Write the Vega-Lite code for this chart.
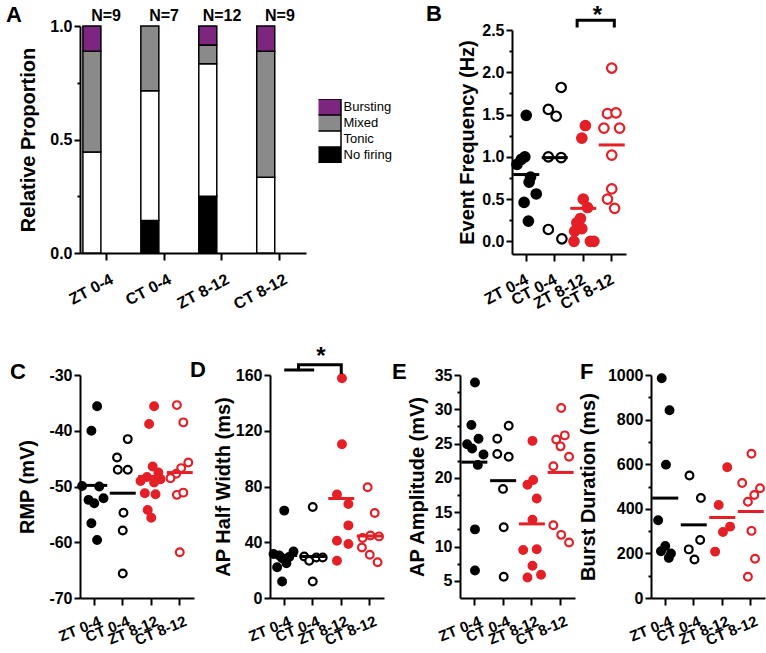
{
"$schema": "https://vega.github.io/schema/vega-lite/v6.json",
"padding": {"left": 6, "top": 3, "right": 0, "bottom": 0},
"config": {
  "font": "Liberation Sans",
  "view": {"stroke": null},
  "axis": {"domainColor": "#000", "domainWidth": 2, "tickColor": "#000", "tickWidth": 2, "tickSize": 6, "labelColor": "#000", "labelFont": "Liberation Sans", "labelFontSize": 16, "labelFontWeight": "bold", "labelPadding": 2, "titleFont": "Liberation Sans", "titleFontSize": 20, "titleFontWeight": "bold", "titleColor": "#000", "titlePadding": 2, "grid": false},
  "title": {"font": "Liberation Sans", "fontSize": 22, "fontWeight": "bold", "color": "#000", "anchor": "start", "frame": "group", "baseline": "alphabetic", "offset": 0}
},
"datasets": {
  "props": [
    {"group": "ZT 0-4", "firing": "Tonic", "lvl": 2, "p": 0.4444},
    {"group": "ZT 0-4", "firing": "Mixed", "lvl": 3, "p": 0.4444},
    {"group": "ZT 0-4", "firing": "Bursting", "lvl": 4, "p": 0.1112},
    {"group": "CT 0-4", "firing": "No firing", "lvl": 1, "p": 0.1429},
    {"group": "CT 0-4", "firing": "Tonic", "lvl": 2, "p": 0.5714},
    {"group": "CT 0-4", "firing": "Mixed", "lvl": 3, "p": 0.2857},
    {"group": "ZT 8-12", "firing": "No firing", "lvl": 1, "p": 0.25},
    {"group": "ZT 8-12", "firing": "Tonic", "lvl": 2, "p": 0.5833},
    {"group": "ZT 8-12", "firing": "Mixed", "lvl": 3, "p": 0.0833},
    {"group": "ZT 8-12", "firing": "Bursting", "lvl": 4, "p": 0.0834},
    {"group": "CT 8-12", "firing": "Tonic", "lvl": 2, "p": 0.3333},
    {"group": "CT 8-12", "firing": "Mixed", "lvl": 3, "p": 0.5556},
    {"group": "CT 8-12", "firing": "Bursting", "lvl": 4, "p": 0.1111}
  ],
  "nlab": [
    {"group": "ZT 0-4", "label": "N=9"},
    {"group": "CT 0-4", "label": "N=7"},
    {"group": "ZT 8-12", "label": "N=12"},
    {"group": "CT 8-12", "label": "N=9"}
  ],
  "freq": [
    {"group": "ZT 0-4", "v": 1.49, "j": 0},
    {"group": "ZT 0-4", "v": 1.0, "j": -0.1},
    {"group": "ZT 0-4", "v": 0.97, "j": -0.35},
    {"group": "ZT 0-4", "v": 0.91, "j": -0.65},
    {"group": "ZT 0-4", "v": 0.76, "j": 0.3},
    {"group": "ZT 0-4", "v": 0.7, "j": 0.2},
    {"group": "ZT 0-4", "v": 0.56, "j": 0.7},
    {"group": "ZT 0-4", "v": 0.46, "j": -0.15},
    {"group": "ZT 0-4", "v": 0.24, "j": 0.15},
    {"group": "CT 0-4", "v": 1.82, "j": 0.45},
    {"group": "CT 0-4", "v": 1.56, "j": -0.45},
    {"group": "CT 0-4", "v": 1.48, "j": 0.1},
    {"group": "CT 0-4", "v": 1.0, "j": -0.45},
    {"group": "CT 0-4", "v": 0.99, "j": 0.45},
    {"group": "CT 0-4", "v": 0.14, "j": -0.45},
    {"group": "CT 0-4", "v": 0.03, "j": 0.5},
    {"group": "ZT 8-12", "v": 1.37, "j": 0.15},
    {"group": "ZT 8-12", "v": 1.22, "j": -0.1},
    {"group": "ZT 8-12", "v": 0.5, "j": 0},
    {"group": "ZT 8-12", "v": 0.4, "j": 0.3},
    {"group": "ZT 8-12", "v": 0.27, "j": -0.2},
    {"group": "ZT 8-12", "v": 0.22, "j": -0.45},
    {"group": "ZT 8-12", "v": 0.15, "j": -0.1},
    {"group": "ZT 8-12", "v": 0.12, "j": -0.6},
    {"group": "ZT 8-12", "v": 0.0, "j": -0.65},
    {"group": "ZT 8-12", "v": 0.0, "j": 0.5},
    {"group": "ZT 8-12", "v": 0.0, "j": 0.75},
    {"group": "CT 8-12", "v": 2.05, "j": 0},
    {"group": "CT 8-12", "v": 1.51, "j": -0.3},
    {"group": "CT 8-12", "v": 1.52, "j": 0.3},
    {"group": "CT 8-12", "v": 1.34, "j": -0.55},
    {"group": "CT 8-12", "v": 1.34, "j": 0.55},
    {"group": "CT 8-12", "v": 1.02, "j": 0},
    {"group": "CT 8-12", "v": 0.62, "j": 0},
    {"group": "CT 8-12", "v": 0.5, "j": -0.3},
    {"group": "CT 8-12", "v": 0.39, "j": 0.2}
  ],
  "freqMean": [
    {"group": "ZT 0-4", "m": 0.79},
    {"group": "CT 0-4", "m": 0.99},
    {"group": "ZT 8-12", "m": 0.39},
    {"group": "CT 8-12", "m": 1.14}
  ],
  "freqBracket": [
    {"o": 1, "group": "ZT 8-12", "j": -0.43, "v": 2.53},
    {"o": 2, "group": "ZT 8-12", "j": -0.43, "v": 2.615},
    {"o": 3, "group": "CT 8-12", "j": 0.18, "v": 2.615},
    {"o": 4, "group": "CT 8-12", "j": 0.18, "v": 2.53}
  ],
  "freqStar": [{"group": "ZT 8-12", "j": 1, "v": 2.58, "t": "*"}],
  "rmp": [
    {"group": "ZT 0-4", "v": -35.6, "j": 0.2},
    {"group": "ZT 0-4", "v": -40.0, "j": -0.2},
    {"group": "ZT 0-4", "v": -49.9, "j": -0.85},
    {"group": "ZT 0-4", "v": -50.0, "j": 0.35},
    {"group": "ZT 0-4", "v": -52.4, "j": -0.4},
    {"group": "ZT 0-4", "v": -53.0, "j": 0},
    {"group": "ZT 0-4", "v": -52.1, "j": 0.65},
    {"group": "ZT 0-4", "v": -56.6, "j": -0.2},
    {"group": "ZT 0-4", "v": -59.6, "j": 0.2},
    {"group": "CT 0-4", "v": -41.5, "j": 0.35},
    {"group": "CT 0-4", "v": -44.8, "j": -0.4},
    {"group": "CT 0-4", "v": -47.0, "j": -0.35},
    {"group": "CT 0-4", "v": -47.0, "j": 0.35},
    {"group": "CT 0-4", "v": -54.7, "j": 0.05},
    {"group": "CT 0-4", "v": -57.9, "j": 0},
    {"group": "CT 0-4", "v": -65.6, "j": 0},
    {"group": "ZT 8-12", "v": -35.6, "j": 0.2},
    {"group": "ZT 8-12", "v": -38.8, "j": -0.15},
    {"group": "ZT 8-12", "v": -46.4, "j": 0.1},
    {"group": "ZT 8-12", "v": -47.5, "j": 0.5},
    {"group": "ZT 8-12", "v": -48.3, "j": -0.3},
    {"group": "ZT 8-12", "v": -48.7, "j": 0.65},
    {"group": "ZT 8-12", "v": -49.0, "j": -0.75},
    {"group": "ZT 8-12", "v": -49.3, "j": 0.2},
    {"group": "ZT 8-12", "v": -51.2, "j": -0.45},
    {"group": "ZT 8-12", "v": -51.4, "j": 0.3},
    {"group": "ZT 8-12", "v": -54.2, "j": -0.25},
    {"group": "ZT 8-12", "v": -55.6, "j": 0},
    {"group": "CT 8-12", "v": -35.4, "j": -0.2},
    {"group": "CT 8-12", "v": -38.5, "j": 0.25},
    {"group": "CT 8-12", "v": -45.7, "j": 0.6},
    {"group": "CT 8-12", "v": -46.7, "j": 0.1},
    {"group": "CT 8-12", "v": -47.7, "j": -0.25},
    {"group": "CT 8-12", "v": -48.5, "j": -0.65},
    {"group": "CT 8-12", "v": -51.5, "j": -0.2},
    {"group": "CT 8-12", "v": -51.1, "j": 0.25},
    {"group": "CT 8-12", "v": -61.8, "j": 0}
  ],
  "rmpMean": [
    {"group": "ZT 0-4", "m": -49.8},
    {"group": "CT 0-4", "m": -51.2},
    {"group": "ZT 8-12", "m": -48.2},
    {"group": "CT 8-12", "m": -47.5}
  ],
  "hw": [
    {"group": "ZT 0-4", "v": 62.7, "j": 0},
    {"group": "ZT 0-4", "v": 33.4, "j": 0.65},
    {"group": "ZT 0-4", "v": 31.5, "j": -0.75},
    {"group": "ZT 0-4", "v": 30.5, "j": -0.35},
    {"group": "ZT 0-4", "v": 29.5, "j": 0.35},
    {"group": "ZT 0-4", "v": 28.5, "j": -0.15},
    {"group": "ZT 0-4", "v": 25.0, "j": 0.15},
    {"group": "ZT 0-4", "v": 22.0, "j": -0.5},
    {"group": "ZT 0-4", "v": 11.8, "j": -0.15},
    {"group": "CT 0-4", "v": 65.3, "j": 0},
    {"group": "CT 0-4", "v": 29.8, "j": -0.6},
    {"group": "CT 0-4", "v": 26.7, "j": -0.25},
    {"group": "CT 0-4", "v": 29.1, "j": 0.25},
    {"group": "CT 0-4", "v": 29.1, "j": 0.7},
    {"group": "CT 0-4", "v": 11.8, "j": 0},
    {"group": "ZT 8-12", "v": 157.6, "j": 0.05},
    {"group": "ZT 8-12", "v": 110.3, "j": 0.05},
    {"group": "ZT 8-12", "v": 74.2, "j": -0.3},
    {"group": "ZT 8-12", "v": 67.5, "j": 0.5},
    {"group": "ZT 8-12", "v": 52.1, "j": 0.5},
    {"group": "ZT 8-12", "v": 41.1, "j": -0.3},
    {"group": "ZT 8-12", "v": 38.7, "j": 0.5},
    {"group": "ZT 8-12", "v": 26.7, "j": -0.3},
    {"group": "CT 8-12", "v": 79.5, "j": -0.15},
    {"group": "CT 8-12", "v": 61.0, "j": 0.35},
    {"group": "CT 8-12", "v": 43.0, "j": -0.5},
    {"group": "CT 8-12", "v": 44.9, "j": 0.05},
    {"group": "CT 8-12", "v": 44.2, "j": 0.65},
    {"group": "CT 8-12", "v": 36.3, "j": -0.55},
    {"group": "CT 8-12", "v": 31.0, "j": 0},
    {"group": "CT 8-12", "v": 25.7, "j": 0.55}
  ],
  "hwMean": [
    {"group": "ZT 0-4", "m": 30.5},
    {"group": "CT 0-4", "m": 29.8},
    {"group": "ZT 8-12", "m": 71.4},
    {"group": "CT 8-12", "m": 44.5}
  ],
  "hwBracket": [
    {"seg": 1, "o": 1, "group": "ZT 0-4", "j": 0, "v": 163.6},
    {"seg": 1, "o": 2, "group": "CT 0-4", "j": 0.1, "v": 163.6},
    {"seg": 2, "o": 1, "group": "ZT 0-4", "j": 1, "v": 163.6},
    {"seg": 2, "o": 2, "group": "ZT 0-4", "j": 1, "v": 167.4},
    {"seg": 2, "o": 3, "group": "ZT 8-12", "j": 0, "v": 167.4},
    {"seg": 2, "o": 4, "group": "ZT 8-12", "j": 0, "v": 160.7}
  ],
  "hwStar": [{"group": "CT 0-4", "j": 0.57, "v": 167.9, "t": "*"}],
  "amp": [
    {"group": "ZT 0-4", "v": 33.9, "j": 0.05},
    {"group": "ZT 0-4", "v": 27.7, "j": -0.2},
    {"group": "ZT 0-4", "v": 24.9, "j": -0.5},
    {"group": "ZT 0-4", "v": 24.3, "j": -0.15},
    {"group": "ZT 0-4", "v": 25.7, "j": 0.3},
    {"group": "ZT 0-4", "v": 23.4, "j": 0.65},
    {"group": "ZT 0-4", "v": 21.9, "j": 0.25},
    {"group": "ZT 0-4", "v": 12.5, "j": 0.05},
    {"group": "ZT 0-4", "v": 6.5, "j": 0.05},
    {"group": "CT 0-4", "v": 27.6, "j": 0.4},
    {"group": "CT 0-4", "v": 25.7, "j": -0.4},
    {"group": "CT 0-4", "v": 23.5, "j": -0.4},
    {"group": "CT 0-4", "v": 23.1, "j": 0.4},
    {"group": "CT 0-4", "v": 18.4, "j": 0},
    {"group": "CT 0-4", "v": 12.8, "j": 0.05},
    {"group": "CT 0-4", "v": 5.6, "j": 0.05},
    {"group": "ZT 8-12", "v": 25.4, "j": 0.05},
    {"group": "ZT 8-12", "v": 19.0, "j": -0.3},
    {"group": "ZT 8-12", "v": 19.7, "j": 0.1},
    {"group": "ZT 8-12", "v": 17.0, "j": 0.35},
    {"group": "ZT 8-12", "v": 13.9, "j": 0.05},
    {"group": "ZT 8-12", "v": 9.5, "j": -0.6},
    {"group": "ZT 8-12", "v": 9.6, "j": 0.35},
    {"group": "ZT 8-12", "v": 7.2, "j": 0.05},
    {"group": "ZT 8-12", "v": 5.5, "j": -0.3},
    {"group": "ZT 8-12", "v": 5.9, "j": 0.65},
    {"group": "CT 8-12", "v": 30.2, "j": 0.05},
    {"group": "CT 8-12", "v": 26.2, "j": 0.3},
    {"group": "CT 8-12", "v": 25.6, "j": -0.3},
    {"group": "CT 8-12", "v": 24.6, "j": 0},
    {"group": "CT 8-12", "v": 23.1, "j": 0.6},
    {"group": "CT 8-12", "v": 21.7, "j": -0.5},
    {"group": "CT 8-12", "v": 13.1, "j": -0.5},
    {"group": "CT 8-12", "v": 11.7, "j": 0.05},
    {"group": "CT 8-12", "v": 10.6, "j": 0.6}
  ],
  "ampMean": [
    {"group": "ZT 0-4", "m": 22.3},
    {"group": "CT 0-4", "m": 19.6},
    {"group": "ZT 8-12", "m": 13.3},
    {"group": "CT 8-12", "m": 20.8}
  ],
  "burst": [
    {"group": "ZT 0-4", "v": 985, "j": -0.25},
    {"group": "ZT 0-4", "v": 842, "j": 0.3},
    {"group": "ZT 0-4", "v": 598, "j": 0.05},
    {"group": "ZT 0-4", "v": 349, "j": -0.5},
    {"group": "ZT 0-4", "v": 233, "j": 0},
    {"group": "ZT 0-4", "v": 210, "j": -0.3},
    {"group": "ZT 0-4", "v": 200, "j": 0.4},
    {"group": "ZT 0-4", "v": 180, "j": 0.25},
    {"group": "CT 0-4", "v": 549, "j": -0.3},
    {"group": "CT 0-4", "v": 448, "j": 0.5},
    {"group": "CT 0-4", "v": 260, "j": 0.45},
    {"group": "CT 0-4", "v": 218, "j": -0.35},
    {"group": "CT 0-4", "v": 173, "j": 0.05},
    {"group": "ZT 8-12", "v": 586, "j": 0.35},
    {"group": "ZT 8-12", "v": 417, "j": -0.25},
    {"group": "ZT 8-12", "v": 320, "j": 0.55},
    {"group": "ZT 8-12", "v": 296, "j": 0.05},
    {"group": "ZT 8-12", "v": 208, "j": -0.5},
    {"group": "CT 8-12", "v": 647, "j": 0.05},
    {"group": "CT 8-12", "v": 516, "j": -0.6},
    {"group": "CT 8-12", "v": 492, "j": 0.65},
    {"group": "CT 8-12", "v": 462, "j": 0.25},
    {"group": "CT 8-12", "v": 432, "j": -0.2},
    {"group": "CT 8-12", "v": 301, "j": 0.05},
    {"group": "CT 8-12", "v": 176, "j": 0.3},
    {"group": "CT 8-12", "v": 95, "j": -0.2}
  ],
  "burstMean": [
    {"group": "ZT 0-4", "m": 448},
    {"group": "CT 0-4", "m": 328},
    {"group": "ZT 8-12", "m": 361},
    {"group": "CT 8-12", "m": 388}
  ]
},
"spacing": 31,
"resolve": {"scale": {"fill": "independent", "stroke": "independent", "color": "independent"}, "legend": {"fill": "independent", "stroke": "independent", "color": "independent"}},
"vconcat": [
  {
    "spacing": 206,
    "bounds": "flush",
    "resolve": {"scale": {"fill": "independent", "stroke": "independent", "color": "independent"}, "legend": {"fill": "independent", "stroke": "independent", "color": "independent"}},
    "hconcat": [
      {
        "width": 226,
        "height": 227,
        "title": {"text": "A", "dx": -74, "dy": 23},
        "resolve": {"axis": {"y": "independent"}},
        "layer": [
          {
            "data": {"name": "props"},
            "mark": {"type": "bar", "stroke": "#000", "strokeWidth": 1.5},
            "encoding": {
              "x": {"field": "group", "type": "nominal", "sort": ["ZT 0-4", "CT 0-4", "ZT 8-12", "CT 8-12"], "scale": {"paddingInner": 0.2, "paddingOuter": 0.05}, "axis": {"title": null, "labelAngle": -28, "labelAlign": "right", "labelBaseline": "middle", "labelFontSize": 16, "labelPadding": 18, "labelOffset": 6, "tickSize": 7, "labelOverlap": false}},
              "y": {"field": "p", "type": "quantitative", "stack": "zero", "scale": {"domain": [0, 1], "nice": false}, "axis": {"values": [0, 0.5, 1], "format": ".1f", "title": "Relative Proportion", "titlePadding": 11}},
              "fill": {"field": "firing", "type": "nominal", "scale": {"domain": ["Bursting", "Mixed", "Tonic", "No firing"], "range": ["#7d2680", "#8a8a8a", "#ffffff", "#000000"]}, "legend": {"orient": "none", "legendX": 238.5, "legendY": 73, "title": null, "symbolType": "M-2,-1.1H2V1.1H-2Z", "symbolSize": 210.25, "symbolStrokeColor": "#000", "symbolStrokeWidth": 1.5, "symbolOpacity": 1, "clipHeight": 16, "labelFontSize": 13, "labelFontWeight": "normal", "labelFont": "Liberation Sans", "labelColor": "#000", "labelOffset": 9, "rowPadding": 0, "padding": 0}},
              "order": {"field": "lvl", "type": "quantitative"}
            }
          },
          {
            "data": {"name": "nlab"},
            "mark": {"type": "text", "fontSize": 16, "fontWeight": "bold", "baseline": "alphabetic", "dy": -5, "color": "#000"},
            "encoding": {
              "x": {"field": "group", "type": "nominal", "sort": ["ZT 0-4", "CT 0-4", "ZT 8-12", "CT 8-12"]},
              "y": {"datum": 1, "type": "quantitative", "axis": {"orient": "left", "values": [0.25, 0.75], "labels": false, "domain": false, "tickSize": 3, "title": null}},
              "text": {"field": "label"}
            }
          }
        ]
      },
      {
        "spacing": 3,
        "bounds": "flush",
        "vconcat": [
          {"width": 114, "height": 1, "data": {"values": []}, "mark": "point"},
          {
            "width": 114,
            "height": 224,
            "title": {"text": "B", "dx": -86, "dy": 26},
            "resolve": {"axis": {"y": "independent"}},
            "layer": [
              {
                "data": {"name": "freq"},
                "mark": {"type": "circle", "size": 90, "strokeWidth": 2.2, "opacity": 1},
                "encoding": {
                  "x": {"field": "group", "type": "nominal", "sort": ["ZT 0-4", "CT 0-4", "ZT 8-12", "CT 8-12"], "scale": {"type": "band", "paddingInner": 0, "paddingOuter": 0}, "axis": {"title": null, "labelAngle": -28, "labelAlign": "right", "labelBaseline": "middle", "labelFontSize": 16, "labelPadding": 17, "labelOffset": 1, "tickSize": 7, "labelOverlap": false}},
                  "xOffset": {"field": "j", "type": "quantitative", "scale": {"domain": [-1, 1]}},
                  "y": {"field": "v", "type": "quantitative", "scale": {"domain": [-0.15, 2.5], "nice": false, "zero": false}, "axis": {"values": [0, 0.5, 1, 1.5, 2, 2.5], "format": ".1f", "title": "Event Frequency (Hz)", "titlePadding": 4}},
                  "fill": {"field": "group", "type": "nominal", "scale": {"domain": ["ZT 0-4", "CT 0-4", "ZT 8-12", "CT 8-12"], "range": ["#000000", "#ffffff", "#e41f26", "#ffffff"]}, "legend": null},
                  "stroke": {"field": "group", "type": "nominal", "scale": {"domain": ["ZT 0-4", "CT 0-4", "ZT 8-12", "CT 8-12"], "range": ["#000000", "#000000", "#e41f26", "#e41f26"]}, "legend": null}
                }
              },
              {
                "data": {"name": "freqMean"},
                "mark": {"type": "tick", "size": 26, "thickness": 3, "opacity": 1},
                "encoding": {
                  "x": {"field": "group", "type": "nominal", "sort": ["ZT 0-4", "CT 0-4", "ZT 8-12", "CT 8-12"], "scale": {"type": "band", "paddingInner": 0, "paddingOuter": 0}},
                  "y": {"field": "m", "type": "quantitative", "axis": {"orient": "left", "values": [0.25, 0.75, 1.25, 1.75, 2.25], "labels": false, "domain": false, "tickSize": 3, "title": null}},
                  "color": {"field": "group", "type": "nominal", "scale": {"domain": ["ZT 0-4", "CT 0-4", "ZT 8-12", "CT 8-12"], "range": ["#000000", "#000000", "#e41f26", "#e41f26"]}, "legend": null}
                }
              },
              {
                "data": {"name": "freqBracket"},
                "mark": {"type": "line", "color": "#000", "strokeWidth": 3, "strokeJoin": "miter", "strokeCap": "butt", "clip": false},
                "encoding": {
                  "x": {"field": "group", "type": "nominal", "sort": ["ZT 0-4", "CT 0-4", "ZT 8-12", "CT 8-12"], "scale": {"type": "band", "paddingInner": 0, "paddingOuter": 0}},
                  "xOffset": {"field": "j", "type": "quantitative", "scale": {"domain": [-1, 1]}},
                  "y": {"field": "v", "type": "quantitative", "axis": null},
                  "order": {"field": "o", "type": "quantitative"}
                }
              },
              {
                "data": {"name": "freqStar"},
                "mark": {"type": "text", "fontSize": 24, "fontWeight": "bold", "baseline": "alphabetic", "align": "center", "color": "#000"},
                "encoding": {
                  "x": {"field": "group", "type": "nominal", "sort": ["ZT 0-4", "CT 0-4", "ZT 8-12", "CT 8-12"], "scale": {"type": "band", "paddingInner": 0, "paddingOuter": 0}},
                  "xOffset": {"field": "j", "type": "quantitative", "scale": {"domain": [-1, 1]}},
                  "y": {"field": "v", "type": "quantitative", "axis": null},
                  "text": {"field": "t"}
                }
              }
            ]
          }
        ]
      }
    ]
  },
  {
    "spacing": 76,
    "bounds": "flush",
    "hconcat": [
      {
        "width": 114,
        "height": 223,
        "title": {"text": "C", "dx": -70, "dy": 21},
        "resolve": {"axis": {"y": "independent"}},
        "layer": [
          {
            "data": {"name": "rmp"},
            "mark": {"type": "circle", "size": 60, "strokeWidth": 2.2, "opacity": 1},
            "encoding": {
              "x": {"field": "group", "type": "nominal", "sort": ["ZT 0-4", "CT 0-4", "ZT 8-12", "CT 8-12"], "scale": {"type": "band", "paddingInner": 0, "paddingOuter": 0}, "axis": {"title": null, "labelAngle": -22, "labelAlign": "right", "labelBaseline": "middle", "labelFontSize": 15, "labelPadding": 15, "labelOffset": 6, "tickSize": 7, "labelOverlap": false}},
              "xOffset": {"field": "j", "type": "quantitative", "scale": {"domain": [-1, 1]}},
              "y": {"field": "v", "type": "quantitative", "scale": {"domain": [-70, -30], "nice": false, "zero": false}, "axis": {"values": [-70, -60, -50, -40, -30], "labelExpr": "'' + datum.value", "title": "RMP (mV)", "titlePadding": 11}},
              "fill": {"field": "group", "type": "nominal", "scale": {"domain": ["ZT 0-4", "CT 0-4", "ZT 8-12", "CT 8-12"], "range": ["#000000", "#ffffff", "#e41f26", "#ffffff"]}, "legend": null},
              "stroke": {"field": "group", "type": "nominal", "scale": {"domain": ["ZT 0-4", "CT 0-4", "ZT 8-12", "CT 8-12"], "range": ["#000000", "#000000", "#e41f26", "#e41f26"]}, "legend": null}
            }
          },
          {
            "data": {"name": "rmpMean"},
            "mark": {"type": "tick", "size": 26, "thickness": 3, "opacity": 1},
            "encoding": {
              "x": {"field": "group", "type": "nominal", "sort": ["ZT 0-4", "CT 0-4", "ZT 8-12", "CT 8-12"], "scale": {"type": "band", "paddingInner": 0, "paddingOuter": 0}},
              "y": {"field": "m", "type": "quantitative", "axis": null},
              "color": {"field": "group", "type": "nominal", "scale": {"domain": ["ZT 0-4", "CT 0-4", "ZT 8-12", "CT 8-12"], "range": ["#000000", "#000000", "#e41f26", "#e41f26"]}, "legend": null}
            }
          }
        ]
      },
      {
        "width": 114,
        "height": 223,
        "title": {"text": "D", "dx": -80, "dy": 41},
        "resolve": {"axis": {"y": "independent"}},
        "layer": [
          {
            "data": {"name": "hw"},
            "mark": {"type": "circle", "size": 60, "strokeWidth": 2.2, "opacity": 1},
            "encoding": {
              "x": {"field": "group", "type": "nominal", "sort": ["ZT 0-4", "CT 0-4", "ZT 8-12", "CT 8-12"], "scale": {"type": "band", "paddingInner": 0, "paddingOuter": 0}, "axis": {"title": null, "labelAngle": -22, "labelAlign": "right", "labelBaseline": "middle", "labelFontSize": 15, "labelPadding": 15, "labelOffset": 6, "tickSize": 7, "labelOverlap": false}},
              "xOffset": {"field": "j", "type": "quantitative", "scale": {"domain": [-1, 1]}},
              "y": {"field": "v", "type": "quantitative", "scale": {"domain": [0, 160], "nice": false, "zero": false}, "axis": {"values": [0, 40, 80, 120, 160], "title": "AP Half Width (ms)", "titlePadding": 2}},
              "fill": {"field": "group", "type": "nominal", "scale": {"domain": ["ZT 0-4", "CT 0-4", "ZT 8-12", "CT 8-12"], "range": ["#000000", "#ffffff", "#e41f26", "#ffffff"]}, "legend": null},
              "stroke": {"field": "group", "type": "nominal", "scale": {"domain": ["ZT 0-4", "CT 0-4", "ZT 8-12", "CT 8-12"], "range": ["#000000", "#000000", "#e41f26", "#e41f26"]}, "legend": null}
            }
          },
          {
            "data": {"name": "hwMean"},
            "mark": {"type": "tick", "size": 26, "thickness": 3, "opacity": 1},
            "encoding": {
              "x": {"field": "group", "type": "nominal", "sort": ["ZT 0-4", "CT 0-4", "ZT 8-12", "CT 8-12"], "scale": {"type": "band", "paddingInner": 0, "paddingOuter": 0}},
              "y": {"field": "m", "type": "quantitative", "axis": null},
              "color": {"field": "group", "type": "nominal", "scale": {"domain": ["ZT 0-4", "CT 0-4", "ZT 8-12", "CT 8-12"], "range": ["#000000", "#000000", "#e41f26", "#e41f26"]}, "legend": null}
            }
          },
          {
            "data": {"name": "hwBracket"},
            "mark": {"type": "line", "color": "#000", "strokeWidth": 3, "strokeJoin": "miter", "strokeCap": "butt", "clip": false},
            "encoding": {
              "x": {"field": "group", "type": "nominal", "sort": ["ZT 0-4", "CT 0-4", "ZT 8-12", "CT 8-12"], "scale": {"type": "band", "paddingInner": 0, "paddingOuter": 0}},
              "xOffset": {"field": "j", "type": "quantitative", "scale": {"domain": [-1, 1]}},
              "y": {"field": "v", "type": "quantitative", "axis": null},
              "detail": {"field": "seg", "type": "nominal"},
              "order": {"field": "o", "type": "quantitative"}
            }
          },
          {
            "data": {"name": "hwStar"},
            "mark": {"type": "text", "fontSize": 24, "fontWeight": "bold", "baseline": "alphabetic", "align": "center", "color": "#000"},
            "encoding": {
              "x": {"field": "group", "type": "nominal", "sort": ["ZT 0-4", "CT 0-4", "ZT 8-12", "CT 8-12"], "scale": {"type": "band", "paddingInner": 0, "paddingOuter": 0}},
              "xOffset": {"field": "j", "type": "quantitative", "scale": {"domain": [-1, 1]}},
              "y": {"field": "v", "type": "quantitative", "axis": null},
              "text": {"field": "t"}
            }
          }
        ]
      },
      {
        "width": 115,
        "height": 223,
        "title": {"text": "E", "dx": -68, "dy": 21},
        "resolve": {"axis": {"y": "independent"}},
        "layer": [
          {
            "data": {"name": "amp"},
            "mark": {"type": "circle", "size": 60, "strokeWidth": 2.2, "opacity": 1},
            "encoding": {
              "x": {"field": "group", "type": "nominal", "sort": ["ZT 0-4", "CT 0-4", "ZT 8-12", "CT 8-12"], "scale": {"type": "band", "paddingInner": 0, "paddingOuter": 0}, "axis": {"title": null, "labelAngle": -22, "labelAlign": "right", "labelBaseline": "middle", "labelFontSize": 15, "labelPadding": 15, "labelOffset": 6, "tickSize": 7, "labelOverlap": false}},
              "xOffset": {"field": "j", "type": "quantitative", "scale": {"domain": [-1, 1]}},
              "y": {"field": "v", "type": "quantitative", "scale": {"domain": [2.5, 35], "nice": false, "zero": false}, "axis": {"values": [5, 10, 15, 20, 25, 30, 35], "title": "AP Amplitude (mV)", "titlePadding": 7}},
              "fill": {"field": "group", "type": "nominal", "scale": {"domain": ["ZT 0-4", "CT 0-4", "ZT 8-12", "CT 8-12"], "range": ["#000000", "#ffffff", "#e41f26", "#ffffff"]}, "legend": null},
              "stroke": {"field": "group", "type": "nominal", "scale": {"domain": ["ZT 0-4", "CT 0-4", "ZT 8-12", "CT 8-12"], "range": ["#000000", "#000000", "#e41f26", "#e41f26"]}, "legend": null}
            }
          },
          {
            "data": {"name": "ampMean"},
            "mark": {"type": "tick", "size": 26, "thickness": 3, "opacity": 1},
            "encoding": {
              "x": {"field": "group", "type": "nominal", "sort": ["ZT 0-4", "CT 0-4", "ZT 8-12", "CT 8-12"], "scale": {"type": "band", "paddingInner": 0, "paddingOuter": 0}},
              "y": {"field": "m", "type": "quantitative", "axis": {"orient": "left", "values": [7.5, 12.5, 17.5, 22.5, 27.5, 32.5], "labels": false, "domain": false, "tickSize": 3, "title": null}},
              "color": {"field": "group", "type": "nominal", "scale": {"domain": ["ZT 0-4", "CT 0-4", "ZT 8-12", "CT 8-12"], "range": ["#000000", "#000000", "#e41f26", "#e41f26"]}, "legend": null}
            }
          }
        ]
      },
      {
        "width": 114,
        "height": 223,
        "title": {"text": "F", "dx": -71, "dy": 21},
        "resolve": {"axis": {"y": "independent"}},
        "layer": [
          {
            "data": {"name": "burst"},
            "mark": {"type": "circle", "size": 60, "strokeWidth": 2.2, "opacity": 1},
            "encoding": {
              "x": {"field": "group", "type": "nominal", "sort": ["ZT 0-4", "CT 0-4", "ZT 8-12", "CT 8-12"], "scale": {"type": "band", "paddingInner": 0, "paddingOuter": 0}, "axis": {"title": null, "labelAngle": -22, "labelAlign": "right", "labelBaseline": "middle", "labelFontSize": 15, "labelPadding": 15, "labelOffset": 6, "tickSize": 7, "labelOverlap": false}},
              "xOffset": {"field": "j", "type": "quantitative", "scale": {"domain": [-1, 1]}},
              "y": {"field": "v", "type": "quantitative", "scale": {"domain": [0, 1000], "nice": false, "zero": false}, "axis": {"values": [0, 200, 400, 600, 800, 1000], "format": "d", "title": "Burst Duration (ms)", "titlePadding": 9}},
              "fill": {"field": "group", "type": "nominal", "scale": {"domain": ["ZT 0-4", "CT 0-4", "ZT 8-12", "CT 8-12"], "range": ["#000000", "#ffffff", "#e41f26", "#ffffff"]}, "legend": null},
              "stroke": {"field": "group", "type": "nominal", "scale": {"domain": ["ZT 0-4", "CT 0-4", "ZT 8-12", "CT 8-12"], "range": ["#000000", "#000000", "#e41f26", "#e41f26"]}, "legend": null}
            }
          },
          {
            "data": {"name": "burstMean"},
            "mark": {"type": "tick", "size": 26, "thickness": 3, "opacity": 1},
            "encoding": {
              "x": {"field": "group", "type": "nominal", "sort": ["ZT 0-4", "CT 0-4", "ZT 8-12", "CT 8-12"], "scale": {"type": "band", "paddingInner": 0, "paddingOuter": 0}},
              "y": {"field": "m", "type": "quantitative", "axis": {"orient": "left", "values": [100, 300, 500, 700, 900], "labels": false, "domain": false, "tickSize": 3, "title": null}},
              "color": {"field": "group", "type": "nominal", "scale": {"domain": ["ZT 0-4", "CT 0-4", "ZT 8-12", "CT 8-12"], "range": ["#000000", "#000000", "#e41f26", "#e41f26"]}, "legend": null}
            }
          }
        ]
      }
    ]
  }
]
}
